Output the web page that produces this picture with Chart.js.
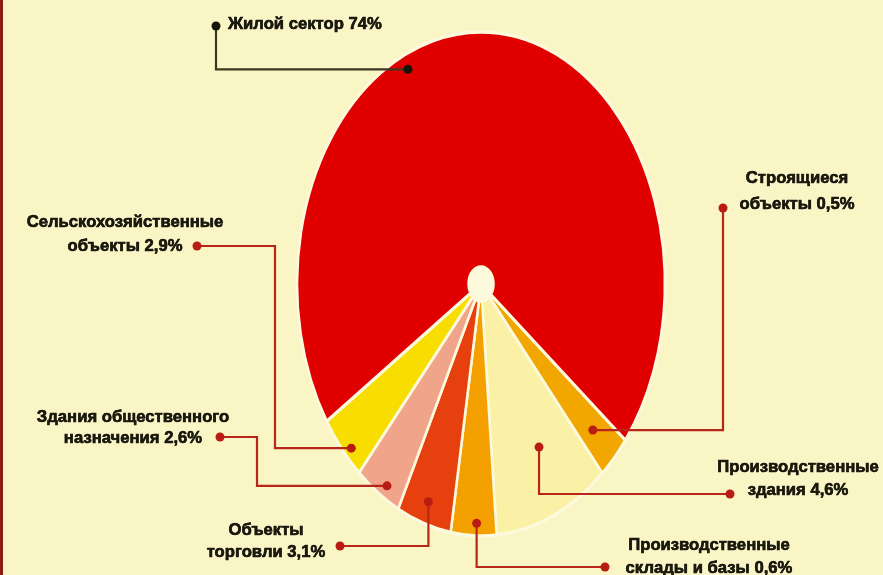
<!DOCTYPE html>
<html>
<head>
<meta charset="utf-8">
<script src="https://cdn.jsdelivr.net/npm/chart.js@4.4.1/dist/chart.umd.min.js"></script>
<style>
body { margin: 0; background: #faf5c4; }
#wrap { position: relative; width: 883px; height: 575px; overflow: hidden; }
#wrap:before { content: ""; position: absolute; left: 0; top: 0; bottom: 0; width: 3px; background: #8c1c12; }
canvas { display: block; }
</style>
</head>
<body>
<div id="wrap"><canvas id="pieChart" width="883" height="575"></canvas></div>
<script>
const PIE = document.getElementById("pieChart");

// slices clockwise, starting with the small orange one on the right
const categories = ["Строящиеся объекты", "Производственные здания", "Производственные склады и базы", "Объекты торговли", "Здания общественного назначения", "Сельскохозяйственные объекты", "Жилой сектор"]
const percentLabels = ["0,5%", "4,6%", "0,6%", "3,1%", "2,6%", "2,9%", "74%"]
// size of each slice as it is drawn in the picture (% of the circle)
const sliceShares = [2.9, 10.1, 4.0, 4.8, 4.1, 4.3, 69.8]
const sliceColors = ["#f2a600", "#fbf1a6", "#f4a000", "#e6400e", "#f0a48a", "#f7de00", "#e00000"]

const labelLines = [
    ["Строящиеся", "объекты " + percentLabels[0]],
    ["Производственные", "здания " + percentLabels[1]],
    ["Производственные", "склады и базы " + percentLabels[2]],
    ["Объекты", "торговли " + percentLabels[3]],
    ["Здания общественного", "назначения " + percentLabels[4]],
    ["Сельскохозяйственные", "объекты " + percentLabels[5]],
    ["Жилой сектор " + percentLabels[6]]
]

// where the callouts sit and how the leader lines bend
const callouts = [
    {tx: 797, ty: [178, 204], dot: [723, 208], route: "vh", at: 0.51, r: 0.84},
    {tx: 798, ty: [467, 490], dot: [730, 494], route: "hv", at: 0.42, r: 0.72},
    {tx: 709, ty: [545, 568], dot: [605, 567], route: "hv", at: 0.44, r: 0.95},
    {tx: 266, ty: [530, 552], dot: [340, 546], route: "hv", at: 0.51, r: 0.91},
    {tx: 133, ty: [417, 438], dot: [220, 437], route: "hvh", bend: 257, at: 0.39, r: 0.95},
    {tx: 125, ty: [222, 246], dot: [197, 246], route: "hvh", bend: 275, at: 0.37, r: 0.96},
    {tx: 228, ty: [24], dot: [216, 26], route: "vh", at: 0.39, r: 0.94, align: "left", dark: true}
]

const squeeze = 0.73   // the pie is narrower than it is tall
const textScale = 0.98

const squeezePlugin = {
    id: "squeeze",
    beforeDatasetsDraw(chart) {
        const arc = chart.getDatasetMeta(0).data[0]
        const ctx = chart.ctx
        ctx.save()
        ctx.translate(arc.x, 0)
        ctx.scale(squeeze, 1)
        ctx.translate(-arc.x, 0)
        ctx.fillStyle = "#fdf9dc"
        ctx.beginPath()
        ctx.arc(arc.x, arc.y, arc.innerRadius + 1, 0, Math.PI * 2)
        ctx.fill()
    },
    afterDatasetsDraw(chart) {
        chart.ctx.restore()
    }
}

const calloutPlugin = {
    id: "callouts",
    afterDraw(chart) {
        const ctx = chart.ctx
        const arcs = chart.getDatasetMeta(0).data
        callouts.forEach((c, i) => {
            const a = arcs[i]
            const ang = a.startAngle + c.at * (a.endAngle - a.startAngle)
            const ax = a.x + squeeze * c.r * a.outerRadius * Math.cos(ang)
            const ay = a.y + c.r * a.outerRadius * Math.sin(ang)
            const [dx, dy] = c.dot
            let pts
            if (c.route === "vh") pts = [[dx, dy], [dx, ay], [ax, ay]]
            else if (c.route === "hv") pts = [[dx, dy], [ax, dy], [ax, ay]]
            else pts = [[dx, dy], [c.bend, dy], [c.bend, ay], [ax, ay]]
            const col = c.dark ? "#3a3820" : "#b8261a"
            ctx.save()
            ctx.strokeStyle = col
            ctx.lineWidth = 2.2
            ctx.beginPath()
            pts.forEach((p, k) => k ? ctx.lineTo(p[0], p[1]) : ctx.moveTo(p[0], p[1]))
            ctx.stroke()
            ctx.fillStyle = c.dark ? "#151508" : "#b81c12"
            ;[[dx, dy], [ax, ay]].forEach(p => {
                ctx.beginPath()
                ctx.arc(p[0], p[1], 4.5, 0, Math.PI * 2)
                ctx.fill()
            })
            // text: soft light halo first, then the dark letters on top
            ctx.font = "bold 17px 'Liberation Sans', Arial, sans-serif"
            ctx.textBaseline = "middle"
            ctx.lineWidth = 0.6
            labelLines[i].forEach((line, k) => {
                ctx.save()
                ctx.translate(c.tx, c.ty[k])
                ctx.scale(textScale, 1)
                ctx.textAlign = c.align || "center"
                ctx.shadowColor = "rgba(255,255,235,0.9)"
                ctx.shadowBlur = 3
                ctx.fillStyle = "#1c1a0c"
                ctx.fillText(line, 0, 0)
                ctx.shadowColor = "transparent"
                ctx.strokeStyle = "#1c1a0c"
                ctx.fillText(line, 0, 0)
                ctx.strokeText(line, 0, 0)
                ctx.restore()
            })
            ctx.restore()
        })
    }
}

const pieChart = new Chart(PIE, {
    type: "doughnut",
    data: {
        labels: categories,
        datasets: [{
            data: sliceShares,
            backgroundColor: sliceColors,
            borderColor: "#fdf9dc",
            borderWidth: 3.5,
            hoverOffset: 0,
            clip: false
        }]
    },
    options: {
        responsive: false,
        animation: false,
        rotation: 128.3,
        radius: 252,
        cutout: 17,
        layout: {padding: {left: 229, right: 150, top: 32, bottom: 39}},
        plugins: {
            legend: {display: false},
            tooltip: {enabled: false}
        }
    },
    plugins: [squeezePlugin, calloutPlugin]
})
</script>
</body>
</html>
